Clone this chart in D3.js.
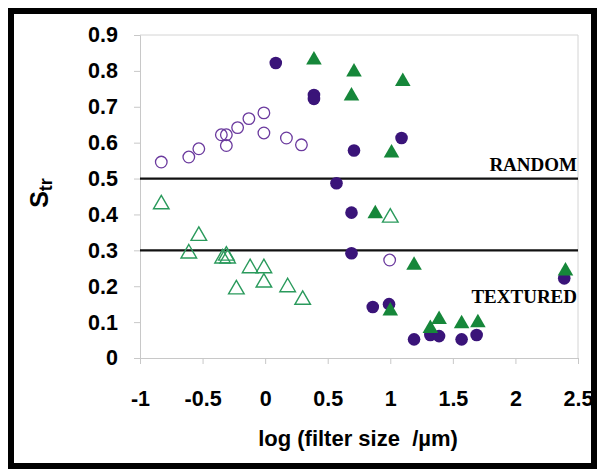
<!DOCTYPE html>
<html>
<head>
<meta charset="utf-8">
<script src="https://cdn.jsdelivr.net/npm/d3@7"></script>
<style>
  html, body { margin: 0; padding: 0; background: #fff; }
  svg { display: block; }
</style>
</head>
<body>
<svg id="chart" width="602" height="473"></svg>
<script>
// Str (texture aspect ratio) vs. log filter size, four sample series
const hollowCircles = [
  [-0.83, 0.546], [-0.61, 0.560], [-0.53, 0.583], [-0.35, 0.622], [-0.31, 0.622],
  [-0.31, 0.592], [-0.22, 0.642], [-0.13, 0.667], [-0.01, 0.683], [-0.01, 0.627],
  [0.17, 0.613], [0.29, 0.594], [0.995, 0.273]
];
const filledCircles = [
  [0.085, 0.822], [0.39, 0.733], [0.39, 0.722], [0.71, 0.578], [1.09, 0.613],
  [0.57, 0.487], [0.69, 0.405], [0.69, 0.292], [0.86, 0.142], [0.99, 0.150],
  [1.19, 0.052], [1.32, 0.064], [1.39, 0.061], [1.57, 0.052], [1.69, 0.064],
  [2.39, 0.222]
];
const hollowTriangles = [
  [-0.83, 0.431], [-0.61, 0.294], [-0.53, 0.343], [-0.34, 0.280], [-0.30, 0.280],
  [-0.31, 0.288], [-0.23, 0.194], [-0.12, 0.253], [-0.01, 0.253], [-0.01, 0.213],
  [0.18, 0.200], [0.30, 0.165], [1.00, 0.394]
];
const filledTriangles = [
  [0.39, 0.833], [0.71, 0.800], [0.69, 0.733], [1.10, 0.773], [1.01, 0.574],
  [0.88, 0.405], [1.19, 0.261], [1.00, 0.134], [1.32, 0.085], [1.39, 0.110],
  [1.57, 0.098], [1.70, 0.101], [2.40, 0.245]
];
const thresholds = [
  { value: 0.5, label: "RANDOM" },
  { value: 0.3, label: "TEXTURED" }
];
const xTicks = [-1, -0.5, 0, 0.5, 1, 1.5, 2, 2.5];
const yTicks = [0, 0.1, 0.2, 0.3, 0.4, 0.5, 0.6, 0.7, 0.8, 0.9];

const svg = d3.select("#chart");
const plotLeft = 140, plotRight = 578, plotTop = 35, plotBottom = 358;

const x = d3.scaleLinear().domain([-1, 2.5]).range([plotLeft, plotRight]);
const y = d3.scaleLinear().domain([0, 0.9]).range([plotBottom, plotTop]);

// outer frame
svg.append("rect")
  .attr("x", 11).attr("y", 11).attr("width", 583).attr("height", 455)
  .attr("fill", "none").attr("stroke", "#000").attr("stroke-width", 6);

// plot area border (top and right)
svg.append("path")
  .attr("d", `M${plotLeft},${plotTop}H${plotRight}V${plotBottom}`)
  .attr("fill", "none").attr("stroke", "#d4d4d4").attr("stroke-width", 1);

const font = "'Liberation Sans', Arial, sans-serif";

const xAxis = svg.append("g")
  .attr("transform", `translate(0,${plotBottom})`)
  .call(d3.axisBottom(x).tickValues(xTicks).tickSize(6).tickPadding(27)
    .tickFormat(d => String(d)));
const yAxis = svg.append("g")
  .attr("transform", `translate(${plotLeft},0)`)
  .call(d3.axisLeft(y).tickValues(yTicks).tickSize(6).tickPadding(16)
    .tickFormat(d => d === 0 ? "0" : d3.format(".1f")(d)));

[xAxis, yAxis].forEach(g => {
  g.select(".domain").attr("stroke", "#c8c8c8");
  g.selectAll(".tick line").attr("stroke", "#c8c8c8");
  g.selectAll(".tick text")
    .attr("fill", "#000")
    .style("font-family", font)
    .style("font-weight", "bold")
    .style("font-size", "21.5px");
});

// threshold lines and their labels
thresholds.forEach(t => {
  svg.append("line")
    .attr("x1", plotLeft).attr("x2", plotRight)
    .attr("y1", y(t.value)).attr("y2", y(t.value))
    .attr("stroke", "#111").attr("stroke-width", 2.2);
});
svg.append("text")
  .attr("x", plotRight - 1).attr("y", y(0.5) - 8)
  .attr("text-anchor", "end")
  .style("font-family", "'Liberation Serif', 'Times New Roman', serif")
  .style("font-weight", "bold").style("font-size", "19px")
  .text(thresholds[0].label);
svg.append("text")
  .attr("x", plotRight - 1).attr("y", y(0.3) + 53)
  .attr("text-anchor", "end")
  .style("font-family", "'Liberation Serif', 'Times New Roman', serif")
  .style("font-weight", "bold").style("font-size", "19px")
  .text(thresholds[1].label);

// markers
const purple = "#3a1479", purpleLight = "#6b3a9e";
const green = "#16873a", greenLight = "#2a9a5c";
const tri = d3.symbol().type(d3.symbolTriangle).size(105);

svg.append("g").selectAll("circle").data(hollowCircles).join("circle")
  .attr("cx", d => x(d[0])).attr("cy", d => y(d[1])).attr("r", 5.8)
  .attr("fill", "none")
  .attr("stroke", purpleLight).attr("stroke-width", 1.3);

svg.append("g").selectAll("path").data(hollowTriangles).join("path")
  .attr("d", tri)
  .attr("transform", d => `translate(${x(d[0])},${y(d[1]) + 1})`)
  .attr("fill", "none").attr("stroke", greenLight).attr("stroke-width", 1.4);

svg.append("g").selectAll("circle").data(filledCircles).join("circle")
  .attr("cx", d => x(d[0])).attr("cy", d => y(d[1])).attr("r", 6.3)
  .attr("fill", purple);

svg.append("g").selectAll("path").data(filledTriangles).join("path")
  .attr("d", tri)
  .attr("transform", d => `translate(${x(d[0])},${y(d[1]) + 1})`)
  .attr("fill", green);

// axis titles
svg.append("text")
  .attr("x", 358).attr("y", 446)
  .attr("text-anchor", "middle")
  .attr("xml:space", "preserve")
  .style("white-space", "pre")
  .style("font-family", font).style("font-weight", "bold").style("font-size", "22px")
  .text("log (filter size  /µm)");

const yt = svg.append("text")
  .attr("transform", "translate(48,193) rotate(-90)")
  .attr("text-anchor", "middle")
  .style("font-family", font).style("font-weight", "bold").style("font-size", "25px");
yt.append("tspan").text("S");
yt.append("tspan").attr("dy", 4).style("font-size", "18px").text("tr");
</script>
</body>
</html>
